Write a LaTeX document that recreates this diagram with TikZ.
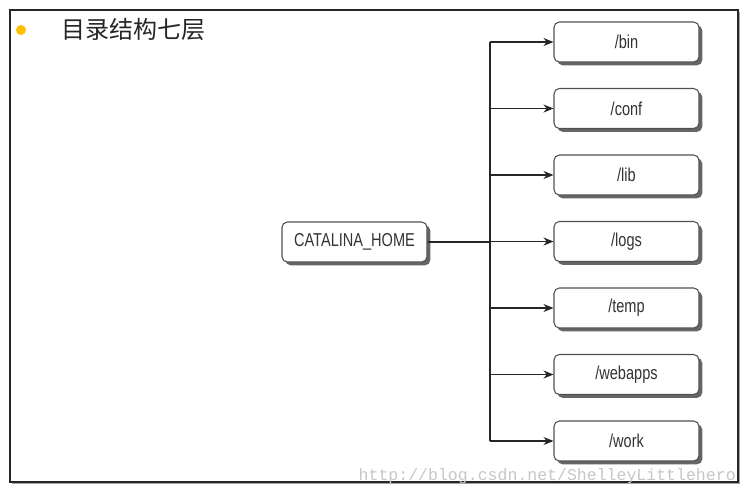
\documentclass[tikz,border=0pt]{standalone}
\usepackage{fontspec}
\newfontfamily\cjk{Noto Sans CJK SC}
\newfontfamily\boxfont{Liberation Sans}
\newfontfamily\wmfont{Liberation Mono}
\usetikzlibrary{shadows,arrows.meta}
\definecolor{bulletgold}{HTML}{FFC000}
\definecolor{boxline}{HTML}{505050}
\newcommand\dirtext[1]{\scalebox{0.78}[1]{#1}}
\begin{document}
\begin{tikzpicture}[x=0.75pt,y=-0.75pt,
  dirbox/.style={draw=boxline, line width=0.8pt, rounded corners=4pt, fill=white,
    minimum width=108.75pt, minimum height=30pt, inner sep=0pt,
    font=\boxfont\fontsize{14}{16}\selectfont, text=black!80,
    drop shadow={shadow xshift=2.5pt, shadow yshift=-2.5pt, fill=black!60, opacity=1}},
  link/.style={line width=0.8pt, draw=black!85},
  arr/.style={link, -{Stealth[length=7.5pt,width=6pt]}}]
\useasboundingbox (0,0) rectangle (750,494);
\fill[white] (0,0) rectangle (750,494);
\draw[draw=black!85, line width=0.9pt, fill=white,
  drop shadow={shadow xshift=1.8pt, shadow yshift=-1.8pt, fill=black!45, opacity=0.8}]
  (10,10) rectangle (738,482);
\node[circle, fill=bulletgold, minimum size=7.5pt, inner sep=0pt] (bullet) at (21,30) {};
\node[anchor=west, inner sep=0pt, font=\cjk\fontsize{18}{20}\selectfont, text=black!85] (title) at (61,29) {目录结构七层};
\node[dirbox] (home) at (354.5,242) {\dirtext{CATALINA\_HOME}};
\node[dirbox] (bin) at (626.5,42) {\dirtext{/bin}};
\node[dirbox] (conf) at (626.5,108.5) {\dirtext{/conf}};
\node[dirbox] (lib) at (626.5,175) {\dirtext{/lib}};
\node[dirbox] (logs) at (626.5,241.5) {\dirtext{/logs}};
\node[dirbox] (temp) at (626.5,308) {\dirtext{/temp}};
\node[dirbox] (webapps) at (626.5,374.5) {\dirtext{/webapps}};
\node[dirbox] (work) at (626.5,441) {\dirtext{/work}};
\coordinate (trunk) at (490,242);
\draw[link] (home.east) -- (trunk);
\draw[link] (trunk |- bin.west) -- (trunk |- work.west);
\foreach \b in {bin,conf,lib,logs,temp,webapps,work}
  \draw[arr] (trunk |- \b.west) -- (\b.west);
\node[anchor=base east, inner sep=0pt, text=black!22, font=\wmfont\fontsize{12.4}{14}\selectfont] (wm) at (736,480) {http://blog.csdn.net/ShelleyLittlehero};
\end{tikzpicture}
\end{document}
